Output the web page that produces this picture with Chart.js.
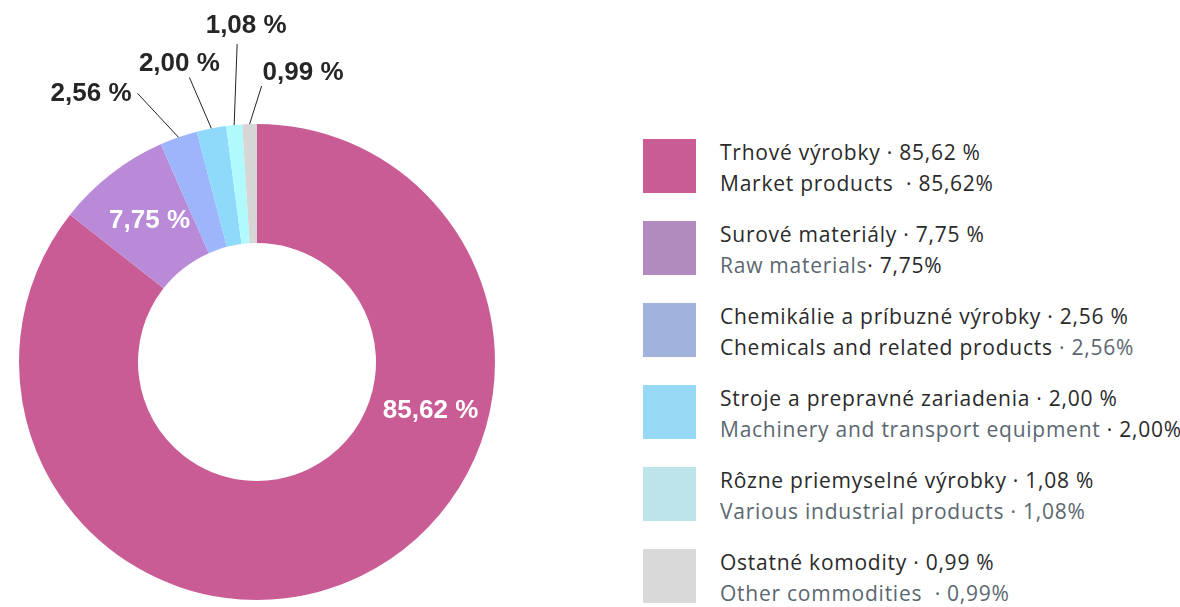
<!DOCTYPE html>
<html>
<head>
<meta charset="utf-8">
<script src="https://cdn.jsdelivr.net/npm/chart.js@4"></script>
<style>
    body { margin: 0; background: #fff; width: 1180px; height: 607px; overflow: hidden; position: relative; }
    #chartBox { position: absolute; left: 0; top: 0; width: 514px; height: 607px; }
    #legenda { position: absolute; left: 643px; top: 139px; font-family: "Open Sans", sans-serif; font-size: 21px; letter-spacing: 0.75px; }
    .polozka { position: relative; height: 82px; }
    .stvorec { position: absolute; left: 0; top: 0; width: 53px; height: 54px; }
    .riadok { position: absolute; left: 77px; white-space: pre; line-height: 26px; color: #2a2a2a; }
    .r1 { top: 0px; }
    .r2 { top: 31px; }
    .sive { color: #5a6770; }
</style>
</head>
<body>
<div id="chartBox"><canvas id="graf"></canvas></div>
<div id="legenda"></div>
<script>
// data
const kategorieSk = ['Trhové výrobky', 'Surové materiály', 'Chemikálie a príbuzné výrobky', 'Stroje a prepravné zariadenia', 'Rôzne priemyselné výrobky', 'Ostatné komodity'];
const kategorieEn = ['Market products  ', 'Raw materials', 'Chemicals and related products ', 'Machinery and transport equipment ', 'Various industrial products ', 'Other commodities  '];
const podiely = [85.62, 7.75, 2.56, 2.00, 1.08, 0.99];

// farby
const farbyGraf = ['#CA5C95', '#B98AD8', '#9DB5FB', '#8FDAFB', '#B0FAFD', '#D6D6D6'];
const farbyLegenda = ['#C95C94', '#B28BBE', '#A1B3DD', '#97D9F4', '#BDE4EB', '#D9D9D9'];
// ktora cast anglickeho riadku je siva: '' ziadna, 'n' nazov, 'v' hodnota, 'nv' oboje
const siveCasti = ['', 'n', 'v', 'n', 'nv', 'nv'];

// umiestnenie popiskov
const vnutri = [true, true, false, false, false, false];
const polohaVnutri = [0.344, 0.5];
const ciaraKoniec = [null, null, [-41, -44], [-22, -51], [3, -81], [12, -38]];
const textPosun = [null, null, [-6, 1, 'right'], [-10, -14, 'center'], [9, -18, 'center'], [1, -13, 'left']];

const cislo = v => v.toFixed(2).replace('.', ',');

// legenda
const legenda = document.getElementById('legenda');
podiely.forEach((v, i) => {
    const s = siveCasti[i];
    legenda.innerHTML += `
        <div class="polozka">
            <div class="stvorec" style="background:${farbyLegenda[i]}"></div>
            <div class="riadok r1">${kategorieSk[i]} · ${cislo(v)} %</div>
            <div class="riadok r2"><span class="${s.includes('n') ? 'sive' : ''}">${kategorieEn[i]}</span><span class="${s.includes('v') ? 'sive' : ''}">· ${cislo(v)}%</span></div>
        </div>`;
});

const popisky = {
    id: 'popisky',
    afterDatasetsDraw(chart) {
        const ctx = chart.ctx;
        const meta = chart.getDatasetMeta(0);
        ctx.save();
        ctx.font = 'bold 26px "Liberation Sans", Arial, sans-serif';
        meta.data.forEach((arc, i) => {
            const p = arc.getProps(['x', 'y', 'startAngle', 'endAngle', 'innerRadius', 'outerRadius'], true);
            const text = cislo(podiely[i]) + ' %';
            if (vnutri[i]) {
                const a = p.startAngle + polohaVnutri[i] * (p.endAngle - p.startAngle);
                const r = (p.innerRadius + p.outerRadius) / 2;
                ctx.fillStyle = '#fff';
                ctx.textAlign = 'center';
                ctx.textBaseline = 'middle';
                ctx.fillText(text, p.x + Math.cos(a) * r + 2, p.y + Math.sin(a) * r);
            } else {
                const a = (p.startAngle + p.endAngle) / 2;
                const x0 = p.x + Math.cos(a) * p.outerRadius;
                const y0 = p.y + Math.sin(a) * p.outerRadius;
                const x1 = x0 + ciaraKoniec[i][0];
                const y1 = y0 + ciaraKoniec[i][1];
                ctx.strokeStyle = '#222';
                ctx.lineWidth = 1;
                ctx.beginPath();
                ctx.moveTo(x0, y0);
                ctx.lineTo(x1, y1);
                ctx.stroke();
                ctx.fillStyle = '#262626';
                ctx.textAlign = textPosun[i][2];
                ctx.textBaseline = 'middle';
                ctx.fillText(text, x1 + textPosun[i][0], y1 + textPosun[i][1]);
            }
        });
        ctx.restore();
    }
};

new Chart(document.getElementById('graf'), {
    type: 'doughnut',
    data: {
        labels: kategorieSk,
        datasets: [{
            data: podiely,
            backgroundColor: farbyGraf,
            borderWidth: 0
        }]
    },
    options: {
        responsive: true,
        maintainAspectRatio: false,
        animation: false,
        cutout: '50%',
        layout: { padding: { top: 124, bottom: 7, left: 19, right: 19 } },
        plugins: {
            legend: { display: false },
            tooltip: { enabled: false }
        }
    },
    plugins: [popisky]
});
</script>
</body>
</html>
